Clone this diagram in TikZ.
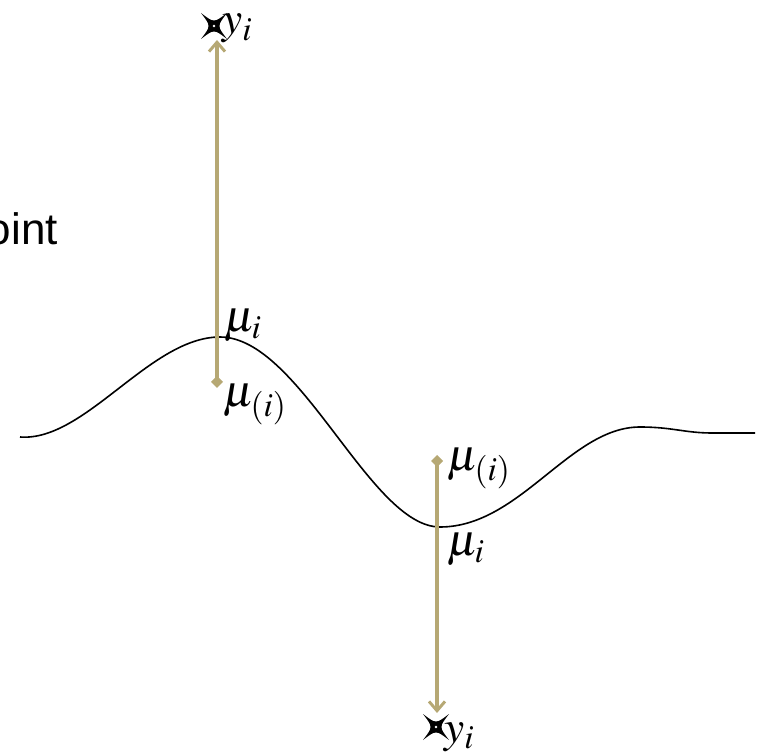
\documentclass[tikz,border=0pt]{standalone}
\usepackage{mathptmx}
\usepackage{fontspec}
\newfontfamily\labelsans{Liberation Sans}
\usetikzlibrary{arrows.meta}
\definecolor{khaki}{RGB}{182,168,116}
\tikzset{
  curveline/.style={line width=1.2pt, black},
  resid/.style={draw=khaki, line width=3pt,
    {Diamond[length=9pt,width=9pt,fill=khaki]}-{Straight Barb[length=7pt,width=12pt,line width=2.2pt]}},
  mathlbl/.style={inner sep=0pt, font=\fontsize{34}{40}\selectfont},
  sanslbl/.style={inner sep=0pt, font=\labelsans\fontsize{33}{40}\selectfont},
  xstar/.pic={
    \fill[black] (13,13) .. controls (3,0) .. (13,-13) .. controls (0,-3) .. (-13,-13)
      .. controls (-3,0) .. (-13,13) .. controls (0,3) .. cycle;
    \fill[white] (0,0) circle (1.4);
  }
}
\begin{document}
\begin{tikzpicture}[x=0.75pt,y=-0.75pt]
\useasboundingbox (0,0) rectangle (758,752);
\clip (0,0) rectangle (758,752);
% curve
\draw[curveline] (20,437) .. controls (85,442) and (150,337) .. (220,337)
  .. controls (300,337) and (370,527) .. (440,527)
  .. controls (520,527) and (570,427) .. (640,427)
  .. controls (672,427) and (685,433) .. (712,433) -- (755,433);
% left residual
\coordinate (ltail) at (217,388);
\coordinate (ltip) at (217,40);
\pic at (214,26) {xstar};
\draw[resid] (ltail) -- (ltip);
\node[mathlbl, anchor=base west] (ly) at (222,34) {$y_i$};
\node[mathlbl, anchor=base west] (lmu) at (224,332) {$\mu_i$};
\node[mathlbl, anchor=base west] (lmuo) at (223,407) {$\mu_{(i)}$};
% right residual
\coordinate (rtail) at (437,455);
\coordinate (rtip) at (437,713);
\pic at (436,727) {xstar};
\draw[resid] (rtail) -- (rtip);
\node[mathlbl, anchor=base west] (ry) at (444,742) {$y_i$};
\node[mathlbl, anchor=base west] (rmu) at (447,556) {$\mu_i$};
\node[mathlbl, anchor=base west] (rmuo) at (447,471) {$\mu_{(i)}$};
% clipped text
\node[sanslbl, anchor=base east] (pt) at (58,245) {point};
\end{tikzpicture}
\end{document}
